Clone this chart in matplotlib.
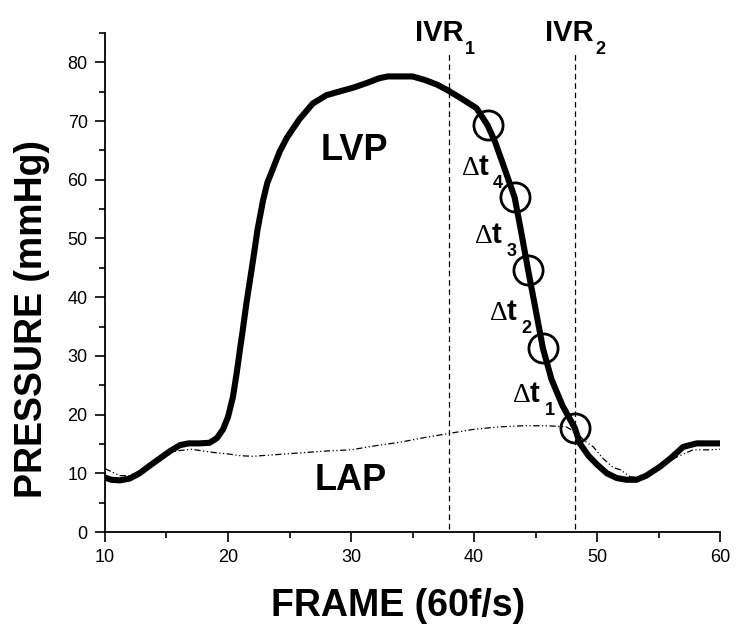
import matplotlib
matplotlib.use('Agg')
import matplotlib.pyplot as plt
from matplotlib.ticker import MultipleLocator

plt.rcParams['font.family'] = ['Liberation Sans', 'DejaVu Sans']

# LVP trace (frame, mmHg)
lvp_x = [10.0, 10.5, 11.2, 12.0, 12.8, 13.7, 14.5, 15.3, 16.1, 16.8, 17.7, 18.5,
         19.1, 19.6, 20.0, 20.4, 20.7, 21.0, 21.2, 21.5, 22.0, 22.4, 22.85, 23.2,
         23.6, 24.2, 24.8, 25.8, 26.9, 28.0, 29.0, 30.2, 31.3, 32.3, 33.0, 35.0,
         36.0, 37.0, 37.9, 39.0, 40.2, 41.1, 41.7, 42.3, 42.8, 43.3, 43.8, 44.4,
         45.0, 45.6, 46.3, 47.2, 48.2, 48.6, 49.3, 50.0, 50.8, 51.6, 52.4, 53.2,
         54.0, 55.1, 56.0, 57.0, 58.1, 59.0, 60.0]
lvp_y = [9.3, 8.9, 8.8, 9.1, 10.0, 11.4, 12.6, 13.8, 14.8, 15.1, 15.1, 15.2,
         16.0, 17.5, 19.6, 23.0, 27.0, 31.5, 34.4, 39.0, 45.8, 51.5, 56.5, 59.5,
         61.6, 64.8, 67.2, 70.3, 73.0, 74.4, 75.0, 75.7, 76.5, 77.3, 77.6, 77.6,
         77.0, 76.2, 75.2, 73.8, 72.2, 69.3, 66.5, 63.0, 60.0, 57.0, 51.5, 44.6,
         38.0, 31.3, 26.0, 21.5, 17.7, 15.1, 13.0, 11.5, 10.0, 9.2, 8.9, 8.9,
         9.6, 11.1, 12.6, 14.5, 15.1, 15.1, 15.1]

# LAP trace
lap_x = [10.0, 10.5, 11.2, 12.0, 13.0, 14.0, 15.0, 15.8, 17.0, 18.0, 19.0, 20.0,
         21.0, 22.0, 24.0, 26.0, 28.0, 30.0, 32.0, 34.0, 36.0, 38.0, 40.0, 42.0,
         44.0, 46.0, 47.5, 48.3, 49.0, 49.7, 50.5, 51.3, 51.9, 52.7, 53.5, 54.5,
         55.5, 56.5, 57.8, 59.0, 60.0]
lap_y = [10.8, 10.3, 9.6, 9.6, 10.6, 12.0, 13.2, 13.8, 14.1, 13.8, 13.5, 13.3,
         13.0, 12.9, 13.2, 13.5, 13.8, 14.0, 14.7, 15.3, 16.1, 16.8, 17.5, 17.9,
         18.1, 18.1, 17.9, 17.0, 15.5, 14.5, 12.5, 11.0, 10.6, 9.4, 9.3, 10.2,
         11.5, 12.8, 14.0, 14.0, 14.1]

# circled points on the relaxation limb
circ_x = [41.1, 43.3, 44.4, 45.6, 48.2]
circ_y = [69.3, 57.0, 44.6, 31.3, 17.7]

ivr_x = [38.0, 48.2]
ivr_subs = ['1', '2']
ivr_text_x = [35.2, 45.8]

dt_subs = ['4', '3', '2', '1']
dt_x = [39.0, 40.1, 41.3, 43.2]
dt_y = [60.8, 49.2, 36.1, 22.1]

fig = plt.figure(figsize=(7.42, 6.38), dpi=100)
ax = fig.add_axes([0.1415, 0.1661, 0.8289, 0.7822])

ax.plot(lvp_x, lvp_y, color='black', lw=4.4, solid_joinstyle='round',
        solid_capstyle='butt', zorder=3)
ax.plot(lap_x, lap_y, color='black', lw=0.9, dashes=(5, 2, 1, 2, 1, 2), zorder=2)
ax.plot(circ_x, circ_y, 'o', ms=21, mfc='none', mec='black', mew=2.0, zorder=4)


def sub(x, y, s, dx, size):
    # subscript drawn a bit below the baseline, like the original figure
    ax.annotate(s, xy=(x, y), xytext=(dx, -9.4), textcoords='offset points',
                fontsize=size, fontweight='bold', ha='left', va='baseline',
                annotation_clip=False)


for xv in ivr_x:
    ax.plot([xv, xv], [0.6, 82.0], color='black', lw=0.9, dashes=(4.5, 3), zorder=1)
for xt, s in zip(ivr_text_x, ivr_subs):
    ax.text(xt, 83.7, 'IVR', fontsize=21, fontweight='bold', ha='left',
            va='baseline', clip_on=False)
    sub(xt, 83.7, s, 36, 13)

for xt, yt, s in zip(dt_x, dt_y, dt_subs):
    ax.text(xt, yt, 'Δ', fontsize=20, family='Liberation Serif', ha='left', va='baseline')
    ax.annotate('t', xy=(xt, yt), xytext=(12, 0), textcoords='offset points',
                fontsize=21, fontweight='bold', ha='left', va='baseline')
    sub(xt, yt, s, 22.5, 13)

ax.text(30.3, 65.0, 'LVP', fontsize=26, fontweight='bold', ha='center', va='center')
ax.text(30.0, 8.7, 'LAP', fontsize=26, fontweight='bold', ha='center', va='center')

ax.set_xlim(10, 60)
ax.set_ylim(0, 85)
ax.xaxis.set_major_locator(MultipleLocator(10))
ax.xaxis.set_minor_locator(MultipleLocator(5))
ax.yaxis.set_major_locator(MultipleLocator(10))
ax.yaxis.set_minor_locator(MultipleLocator(5))
ax.spines['top'].set_visible(False)
ax.spines['right'].set_visible(False)
for s in ['left', 'bottom']:
    ax.spines[s].set_linewidth(1.3)
ax.tick_params(which='major', length=7.5, width=1.2, labelsize=13, pad=5)
ax.tick_params(which='minor', length=4.3, width=1.2)

fig.text(32 / 742, 0.50, 'PRESSURE (mmHg)', rotation=90, fontsize=27,
         fontweight='bold', ha='center', va='center')
fig.text(398 / 742, 0.050, 'FRAME (60f/s)', fontsize=27, fontweight='bold',
         ha='center', va='center')

fig.savefig('out.png', dpi=100)
